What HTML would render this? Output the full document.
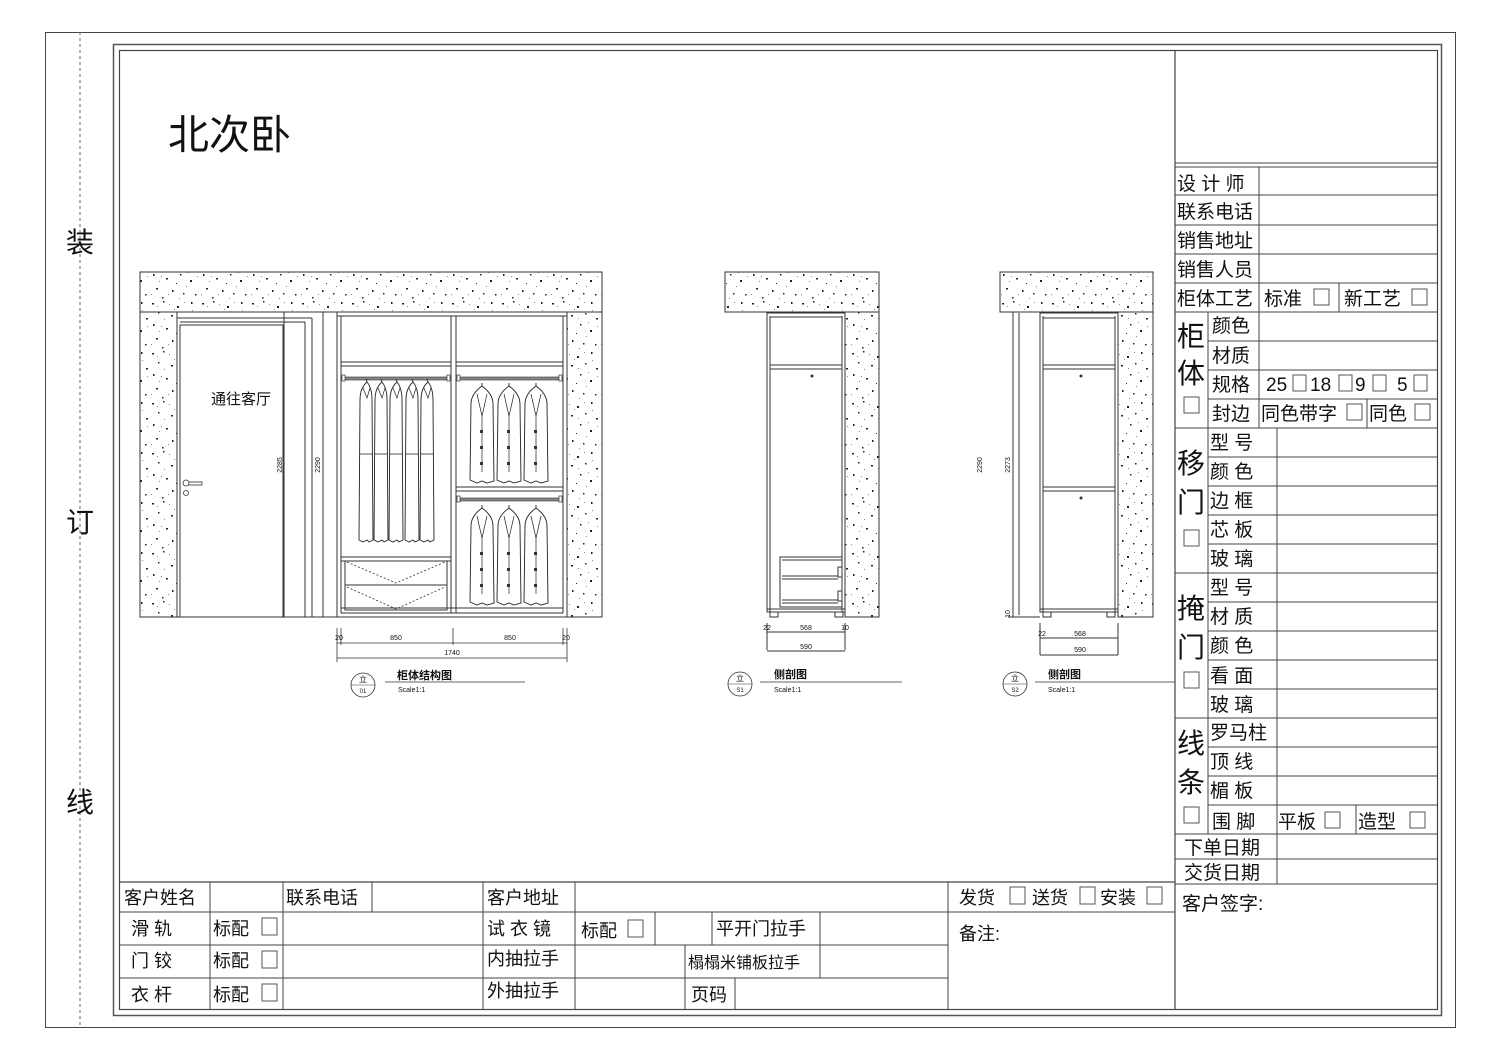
<!DOCTYPE html>
<html><head><meta charset="utf-8">
<style>
html,body{margin:0;padding:0;background:#fff;}
svg{display:block;}
text{font-family:"Liberation Sans","Noto Sans CJK SC",sans-serif;fill:#111;}
</style></head>
<body>
<svg width="1500" height="1060" viewBox="0 0 1500 1060" xmlns="http://www.w3.org/2000/svg">
<defs>
<pattern id="sp" width="50" height="50" patternUnits="userSpaceOnUse">
<rect width="50" height="50" fill="#fff"/>
<g fill="#222">
<rect x="2" y="3" width="2" height="1.5"/><rect x="13" y="1" width="1.5" height="1.5"/><rect x="27" y="6" width="2" height="2"/>
<rect x="41" y="2" width="1.5" height="2"/><rect x="8" y="12" width="1.5" height="1.5"/><rect x="21" y="15" width="2" height="1.5"/>
<rect x="35" y="13" width="1.5" height="1.5"/><rect x="46" y="18" width="2" height="1.5"/><rect x="3" y="24" width="1.5" height="2"/>
<rect x="16" y="28" width="2" height="1.5"/><rect x="30" y="24" width="1.5" height="1.5"/><rect x="40" y="30" width="2" height="2"/>
<rect x="6" y="38" width="2" height="1.5"/><rect x="22" y="40" width="1.5" height="2"/><rect x="33" y="43" width="1.5" height="1.5"/>
<rect x="45" y="44" width="1.5" height="1.5"/><rect x="12" y="47" width="1.5" height="1.5"/><rect x="26" y="33" width="1" height="1"/>
</g>
<g fill="#888">
<rect x="7" y="6" width="1" height="1"/><rect x="19" y="4" width="1" height="1"/><rect x="34" y="2" width="1" height="1"/>
<rect x="14" y="19" width="1" height="1"/><rect x="28" y="18" width="1" height="1"/><rect x="42" y="10" width="1" height="1"/>
<rect x="9" y="31" width="1" height="1"/><rect x="36" y="36" width="1" height="1"/><rect x="47" y="26" width="1" height="1"/>
<rect x="18" y="44" width="1" height="1"/><rect x="29" y="48" width="1" height="1"/><rect x="1" y="44" width="1" height="1"/>
<rect x="24" y="9" width="1" height="1"/><rect x="38" y="22" width="1" height="1"/><rect x="11" y="26" width="1" height="1"/>
</g>
</pattern>
<g id="gown">
<path d="M0,-2 l-1,-3 M0,-2 q-7,6 -7,18 l-1,140 l4,2 l4,-2 l2,2 l4,-2 l-1,-140 q0,-12 -5,-18" fill="#fff" stroke="#222" stroke-width="0.9"/>
<path d="M-4,4 l4,10 l3,-10 M-7,70 l13,0" fill="none" stroke="#222" stroke-width="0.7"/>
</g>
<g id="coat">
<path d="M0,-4 l0,-3 M0,-4 q-11,8 -11,18 l-1,76 l7,3 l5,-2 l5,2 l7,-2 l-1,-77 q0,-10 -11,-18" fill="#fff" stroke="#222" stroke-width="0.9"/>
<path d="M-5,4 l5,22 l5,-22 M0,26 l0,56" fill="none" stroke="#222" stroke-width="0.7"/>
<g fill="#333"><rect x="-2" y="40" width="3" height="3"/><rect x="-2" y="56" width="3" height="3"/><rect x="-2" y="72" width="3" height="3"/></g>
</g>
</defs>

<rect x="45.5" y="32.5" width="1410" height="995" fill="none" stroke="#444" stroke-width="1"/>
<line x1="80" y1="32" x2="80" y2="1027" stroke="#666" stroke-dasharray="3,3"/>
<text x="80" y="252" font-size="28" text-anchor="middle">装</text>
<text x="80" y="532" font-size="28" text-anchor="middle">订</text>
<text x="80" y="812" font-size="28" text-anchor="middle">线</text>
<rect x="113.5" y="44.5" width="1328" height="971" fill="none" stroke="#555" stroke-width="1.5"/>
<rect x="119.5" y="50.5" width="1318" height="959" fill="none" stroke="#444" stroke-width="1.2"/>
<line x1="1175" y1="50" x2="1175" y2="1010" stroke="#444" stroke-width="1.2"/>
<line x1="120" y1="882" x2="1175" y2="882" stroke="#444" stroke-width="1.2"/>

<text x="168" y="149" font-size="41">北次卧</text>

<g stroke="#333" stroke-width="1">
<rect x="140" y="272" width="462" height="40" fill="url(#sp)"/>
<rect x="140" y="312" width="37" height="305" fill="url(#sp)"/>
<rect x="567" y="312" width="35" height="305" fill="url(#sp)"/>
</g>
<g stroke="#333" stroke-width="1" fill="none">
<line x1="140" y1="617" x2="602" y2="617"/>
<line x1="177" y1="318" x2="312" y2="318"/>
<line x1="180" y1="322" x2="305" y2="322"/>
<rect x="180" y="325" width="103" height="292"/>
<line x1="284" y1="312" x2="284" y2="617"/>
<line x1="305" y1="322" x2="305" y2="617"/>
<line x1="312" y1="318" x2="312" y2="617"/>
<line x1="323" y1="312" x2="323" y2="617"/>
<rect x="337" y="312" width="230" height="305"/>
<line x1="341" y1="316" x2="341" y2="613"/>
<line x1="563" y1="316" x2="563" y2="613"/>
<line x1="337" y1="316" x2="567" y2="316"/>
<line x1="451" y1="316" x2="451" y2="613"/>
<line x1="456" y1="316" x2="456" y2="613"/>
<line x1="341" y1="362" x2="451" y2="362"/><line x1="341" y1="366" x2="451" y2="366"/>
<line x1="456" y1="362" x2="563" y2="362"/><line x1="456" y1="366" x2="563" y2="366"/>
<line x1="456" y1="487" x2="563" y2="487"/><line x1="456" y1="491" x2="563" y2="491"/>
<line x1="341" y1="557" x2="451" y2="557"/><line x1="341" y1="561" x2="451" y2="561"/>
<line x1="341" y1="608" x2="563" y2="608"/><line x1="341" y1="613" x2="563" y2="613"/>
<rect x="345" y="561" width="102" height="24"/>
<rect x="345" y="585" width="102" height="25"/>
</g>
<g stroke="#333" stroke-width="0.8" stroke-dasharray="2,2" fill="none">
<polyline points="347,562 396,583 445,562"/>
<polyline points="347,587 396,609 445,587"/>
</g>
<g fill="#888" stroke="#333" stroke-width="0.6">
<rect x="344" y="377" width="104" height="3"/>
<rect x="459" y="377" width="101" height="3"/>
<rect x="459" y="498" width="101" height="3"/>
</g>
<g fill="#fff" stroke="#333" stroke-width="0.7">
<rect x="342" y="375" width="3" height="6"/><rect x="447" y="375" width="3" height="6"/>
<rect x="457" y="375" width="3" height="6"/><rect x="559" y="375" width="3" height="6"/>
<rect x="457" y="496" width="3" height="6"/><rect x="559" y="496" width="3" height="6"/>
</g>
<use href="#gown" x="367" y="384"/><use href="#gown" x="382" y="384"/><use href="#gown" x="397" y="384"/><use href="#gown" x="413" y="384"/><use href="#gown" x="428" y="384"/>
<use href="#coat" x="482" y="390"/><use href="#coat" x="509" y="390"/><use href="#coat" x="536" y="390"/>
<use href="#coat" x="482" y="512"/><use href="#coat" x="509" y="512"/><use href="#coat" x="536" y="512"/>
<rect x="184" y="482" width="18" height="3" fill="#fff" stroke="#333" stroke-width="0.8"/>
<circle cx="186" cy="483" r="3" fill="#fff" stroke="#333" stroke-width="0.8"/>
<circle cx="186" cy="493" r="2.5" fill="#fff" stroke="#333" stroke-width="0.8"/>
<text x="211" y="404" font-size="15">通往客厅</text>
<text x="282" y="465" font-size="7" transform="rotate(-90 282 465)" text-anchor="middle">2285</text>
<text x="320" y="465" font-size="7" transform="rotate(-90 320 465)" text-anchor="middle">2290</text>
<g stroke="#333" stroke-width="0.8">
<line x1="337" y1="628" x2="337" y2="662"/><line x1="341" y1="628" x2="341" y2="645"/>
<line x1="453" y1="628" x2="453" y2="645"/>
<line x1="563" y1="628" x2="563" y2="645"/><line x1="567" y1="628" x2="567" y2="662"/>
<line x1="337" y1="643" x2="567" y2="643"/>
<line x1="337" y1="658" x2="567" y2="658"/>
</g>
<g font-size="7" text-anchor="middle">
<text x="339" y="640">20</text><text x="396" y="640">850</text><text x="510" y="640">850</text><text x="566" y="640">20</text>
<text x="452" y="655">1740</text>
</g>
<circle cx="363" cy="685" r="12" fill="none" stroke="#333" stroke-width="0.8"/>
<line x1="351" y1="685" x2="375" y2="685" stroke="#333" stroke-width="0.6"/>
<text x="363" y="682" font-size="8" text-anchor="middle">立</text>
<text x="363" y="693" font-size="6" text-anchor="middle">01</text>
<text x="397" y="679" font-size="11" font-weight="bold">柜体结构图</text>
<line x1="385" y1="682" x2="525" y2="682" stroke="#333" stroke-width="0.8"/>
<text x="398" y="692" font-size="7">Scale1:1</text>

<g stroke="#333" stroke-width="1">
<rect x="725" y="272" width="154" height="40" fill="url(#sp)"/>
<rect x="845" y="312" width="34" height="305" fill="url(#sp)"/>
</g>
<g stroke="#333" stroke-width="1" fill="none">
<rect x="767" y="313" width="78" height="299"/>
<line x1="770" y1="316" x2="770" y2="612"/>
<line x1="842" y1="316" x2="842" y2="612"/>
<line x1="770" y1="317" x2="842" y2="317"/>
<line x1="770" y1="365" x2="842" y2="365"/><line x1="770" y1="369" x2="842" y2="369"/>
<line x1="767" y1="609" x2="845" y2="609"/>
<rect x="780" y="557" width="62" height="50"/>
<line x1="782" y1="560" x2="842" y2="560"/>
<line x1="782" y1="576" x2="838" y2="576"/><line x1="782" y1="579" x2="838" y2="579"/>
<line x1="782" y1="600" x2="838" y2="600"/><line x1="782" y1="603" x2="838" y2="603"/>
<rect x="838" y="567" width="4" height="10"/><rect x="838" y="591" width="4" height="10"/>
<rect x="770" y="612" width="8" height="5"/><rect x="835" y="612" width="8" height="5"/>
<line x1="767" y1="623" x2="767" y2="650"/><line x1="845" y1="623" x2="845" y2="650"/>
<line x1="767" y1="632" x2="845" y2="632"/>
<line x1="767" y1="651" x2="845" y2="651"/>
</g>
<circle cx="812" cy="376" r="1.5" fill="#333"/>
<g font-size="7" text-anchor="middle">
<text x="767" y="630">22</text><text x="806" y="630">568</text><text x="845" y="630">10</text><text x="806" y="649">590</text>
</g>
<circle cx="740" cy="684" r="12" fill="none" stroke="#333" stroke-width="0.8"/>
<line x1="728" y1="684" x2="752" y2="684" stroke="#333" stroke-width="0.6"/>
<text x="740" y="681" font-size="8" text-anchor="middle">立</text>
<text x="740" y="692" font-size="6" text-anchor="middle">S1</text>
<text x="774" y="678" font-size="11" font-weight="bold">侧剖图</text>
<line x1="760" y1="682" x2="902" y2="682" stroke="#333" stroke-width="0.8"/>
<text x="774" y="692" font-size="7">Scale1:1</text>

<g stroke="#333" stroke-width="1">
<rect x="1000" y="272" width="153" height="40" fill="url(#sp)"/>
<rect x="1118" y="312" width="35" height="305" fill="url(#sp)"/>
</g>
<g stroke="#333" stroke-width="1" fill="none">
<rect x="1040" y="313" width="78" height="299"/>
<line x1="1043" y1="316" x2="1043" y2="612"/>
<line x1="1115" y1="316" x2="1115" y2="612"/>
<line x1="1043" y1="318" x2="1115" y2="318"/>
<line x1="1043" y1="365" x2="1115" y2="365"/><line x1="1043" y1="369" x2="1115" y2="369"/>
<line x1="1043" y1="487" x2="1115" y2="487"/><line x1="1043" y1="491" x2="1115" y2="491"/>
<line x1="1040" y1="609" x2="1118" y2="609"/>
<rect x="1043" y="612" width="8" height="5"/><rect x="1107" y="612" width="8" height="5"/>
<line x1="1013" y1="312" x2="1013" y2="617"/>
<line x1="1008" y1="312" x2="1040" y2="312"/>
<line x1="1008" y1="617" x2="1040" y2="617"/>
<line x1="1040" y1="623" x2="1040" y2="655"/><line x1="1118" y1="623" x2="1118" y2="655"/>
<line x1="1040" y1="638" x2="1118" y2="638"/>
<line x1="1040" y1="655" x2="1118" y2="655"/>
</g>
<line x1="1019" y1="313" x2="1019" y2="615" stroke="#333" stroke-width="1"/>
<circle cx="1081" cy="376" r="1.5" fill="#333"/><circle cx="1081" cy="498" r="1.5" fill="#333"/>
<text x="982" y="465" font-size="7" transform="rotate(-90 982 465)" text-anchor="middle">2290</text>
<text x="1010" y="465" font-size="7" transform="rotate(-90 1010 465)" text-anchor="middle">2273</text>
<text x="1010" y="614" font-size="7" transform="rotate(-90 1010 614)" text-anchor="middle">10</text>
<g font-size="7" text-anchor="middle">
<text x="1042" y="636">22</text><text x="1080" y="636">568</text><text x="1080" y="652">590</text>
</g>
<circle cx="1015" cy="684" r="12" fill="none" stroke="#333" stroke-width="0.8"/>
<line x1="1003" y1="684" x2="1027" y2="684" stroke="#333" stroke-width="0.6"/>
<text x="1015" y="681" font-size="8" text-anchor="middle">立</text>
<text x="1015" y="692" font-size="6" text-anchor="middle">S2</text>
<text x="1048" y="678" font-size="11" font-weight="bold">侧剖图</text>
<line x1="1035" y1="682" x2="1175" y2="682" stroke="#333" stroke-width="0.8"/>
<text x="1048" y="692" font-size="7">Scale1:1</text>

<g stroke="#444" stroke-width="1" fill="none">
<line x1="1175" y1="163" x2="1437" y2="163"/>
<line x1="1175" y1="167" x2="1437" y2="167"/>
<line x1="1175" y1="195" x2="1437" y2="195"/>
<line x1="1175" y1="225" x2="1437" y2="225"/>
<line x1="1175" y1="254" x2="1437" y2="254"/>
<line x1="1175" y1="283" x2="1437" y2="283"/>
<line x1="1175" y1="312" x2="1437" y2="312"/>
<line x1="1208" y1="341" x2="1437" y2="341"/>
<line x1="1208" y1="370" x2="1437" y2="370"/>
<line x1="1208" y1="399" x2="1437" y2="399"/>
<line x1="1175" y1="428" x2="1437" y2="428"/>
<line x1="1208" y1="457" x2="1437" y2="457"/>
<line x1="1208" y1="486" x2="1437" y2="486"/>
<line x1="1208" y1="515" x2="1437" y2="515"/>
<line x1="1208" y1="544" x2="1437" y2="544"/>
<line x1="1175" y1="573" x2="1437" y2="573"/>
<line x1="1208" y1="602" x2="1437" y2="602"/>
<line x1="1208" y1="631" x2="1437" y2="631"/>
<line x1="1208" y1="660" x2="1437" y2="660"/>
<line x1="1208" y1="689" x2="1437" y2="689"/>
<line x1="1175" y1="718" x2="1437" y2="718"/>
<line x1="1208" y1="747" x2="1437" y2="747"/>
<line x1="1208" y1="776" x2="1437" y2="776"/>
<line x1="1208" y1="805" x2="1437" y2="805"/>
<line x1="1175" y1="834" x2="1437" y2="834"/>
<line x1="1175" y1="859" x2="1437" y2="859"/>
<line x1="1175" y1="884" x2="1437" y2="884"/>
<line x1="1259" y1="167" x2="1259" y2="312"/>
<line x1="1339" y1="283" x2="1339" y2="312"/>
<line x1="1208" y1="312" x2="1208" y2="834"/>
<line x1="1259" y1="312" x2="1259" y2="428"/>
<line x1="1367" y1="399" x2="1367" y2="428"/>
<line x1="1277" y1="428" x2="1277" y2="884"/>
<line x1="1356" y1="805" x2="1356" y2="834"/>
</g>
<g font-size="19">
<text x="1177" y="190">设 计 师</text>
<text x="1177" y="218">联系电话</text>
<text x="1177" y="247">销售地址</text>
<text x="1177" y="276">销售人员</text>
<text x="1177" y="305">柜体工艺</text>
<text x="1264" y="305">标准</text>
<text x="1344" y="305">新工艺</text>
<text x="1212" y="332">颜色</text>
<text x="1212" y="362">材质</text>
<text x="1212" y="391">规格</text>
<text x="1266" y="391">25</text><text x="1310" y="391">18</text><text x="1355" y="391">9</text><text x="1397" y="391">5</text>
<text x="1212" y="420">封边</text>
<text x="1261" y="420">同色带字</text>
<text x="1369" y="420">同色</text>
<text x="1210" y="449">型  号</text>
<text x="1210" y="478">颜  色</text>
<text x="1210" y="507">边  框</text>
<text x="1210" y="536">芯  板</text>
<text x="1210" y="565">玻  璃</text>
<text x="1210" y="594">型  号</text>
<text x="1210" y="623">材  质</text>
<text x="1210" y="652">颜  色</text>
<text x="1210" y="682">看  面</text>
<text x="1210" y="711">玻  璃</text>
<text x="1210" y="739">罗马柱</text>
<text x="1210" y="768">顶  线</text>
<text x="1210" y="797">楣  板</text>
<text x="1212" y="828">围 脚</text>
<text x="1278" y="828">平板</text>
<text x="1358" y="828">造型</text>
<text x="1184" y="854">下单日期</text>
<text x="1184" y="879">交货日期</text>
<text x="1182" y="910">客户签字:</text>
</g>
<g font-size="28">
<text x="1177" y="346">柜</text><text x="1177" y="383">体</text>
<text x="1177" y="473">移</text><text x="1177" y="512">门</text>
<text x="1177" y="618">掩</text><text x="1177" y="657">门</text>
<text x="1177" y="753">线</text><text x="1177" y="792">条</text>
</g>
<g fill="#fff" stroke="#555" stroke-width="1">
<rect x="1314" y="289" width="15" height="16"/>
<rect x="1412" y="289" width="15" height="16"/>
<rect x="1293" y="375" width="13" height="16"/>
<rect x="1339" y="375" width="13" height="16"/>
<rect x="1373" y="375" width="13" height="16"/>
<rect x="1414" y="375" width="13" height="16"/>
<rect x="1347" y="404" width="15" height="16"/>
<rect x="1415" y="404" width="15" height="16"/>
<rect x="1184" y="397" width="15" height="16"/>
<rect x="1184" y="530" width="15" height="16"/>
<rect x="1184" y="672" width="15" height="16"/>
<rect x="1184" y="807" width="15" height="16"/>
<rect x="1325" y="812" width="15" height="16"/>
<rect x="1410" y="812" width="15" height="16"/>
</g>

<g stroke="#444" stroke-width="1" fill="none">
<line x1="120" y1="912" x2="1175" y2="912"/>
<line x1="120" y1="945" x2="948" y2="945"/>
<line x1="120" y1="978" x2="948" y2="978"/>
<line x1="210" y1="882" x2="210" y2="1010"/>
<line x1="283" y1="882" x2="283" y2="1010"/>
<line x1="372" y1="882" x2="372" y2="912"/>
<line x1="483" y1="882" x2="483" y2="1010"/>
<line x1="575" y1="882" x2="575" y2="1010"/>
<line x1="948" y1="882" x2="948" y2="1010"/>
<line x1="655" y1="912" x2="655" y2="945"/>
<line x1="712" y1="912" x2="712" y2="945"/>
<line x1="820" y1="912" x2="820" y2="978"/>
<line x1="685" y1="945" x2="685" y2="1010"/>
<line x1="735" y1="978" x2="735" y2="1010"/>
</g>
<g font-size="18">
<text x="124" y="904">客户姓名</text>
<text x="286" y="904">联系电话</text>
<text x="487" y="904">客户地址</text>
<text x="131" y="935">滑  轨</text>
<text x="213" y="935">标配</text>
<text x="131" y="967">门  铰</text>
<text x="213" y="967">标配</text>
<text x="131" y="1001">衣  杆</text>
<text x="213" y="1001">标配</text>
<text x="487" y="935">试 衣 镜</text>
<text x="581" y="937">标配</text>
<text x="716" y="935">平开门拉手</text>
<text x="487" y="965">内抽拉手</text>
<text x="688" y="968" font-size="16">榻榻米铺板拉手</text>
<text x="487" y="997">外抽拉手</text>
<text x="691" y="1001">页码</text>
<text x="959" y="904">发货</text>
<text x="1032" y="904">送货</text>
<text x="1100" y="904">安装</text>
<text x="959" y="940">备注:</text>
</g>
<g fill="#fff" stroke="#555" stroke-width="1">
<rect x="262" y="918" width="15" height="17"/>
<rect x="262" y="951" width="15" height="17"/>
<rect x="262" y="984" width="15" height="17"/>
<rect x="628" y="920" width="15" height="17"/>
<rect x="1010" y="887" width="15" height="17"/>
<rect x="1080" y="887" width="15" height="17"/>
<rect x="1147" y="887" width="15" height="17"/>
</g>
</svg>
</body></html>
